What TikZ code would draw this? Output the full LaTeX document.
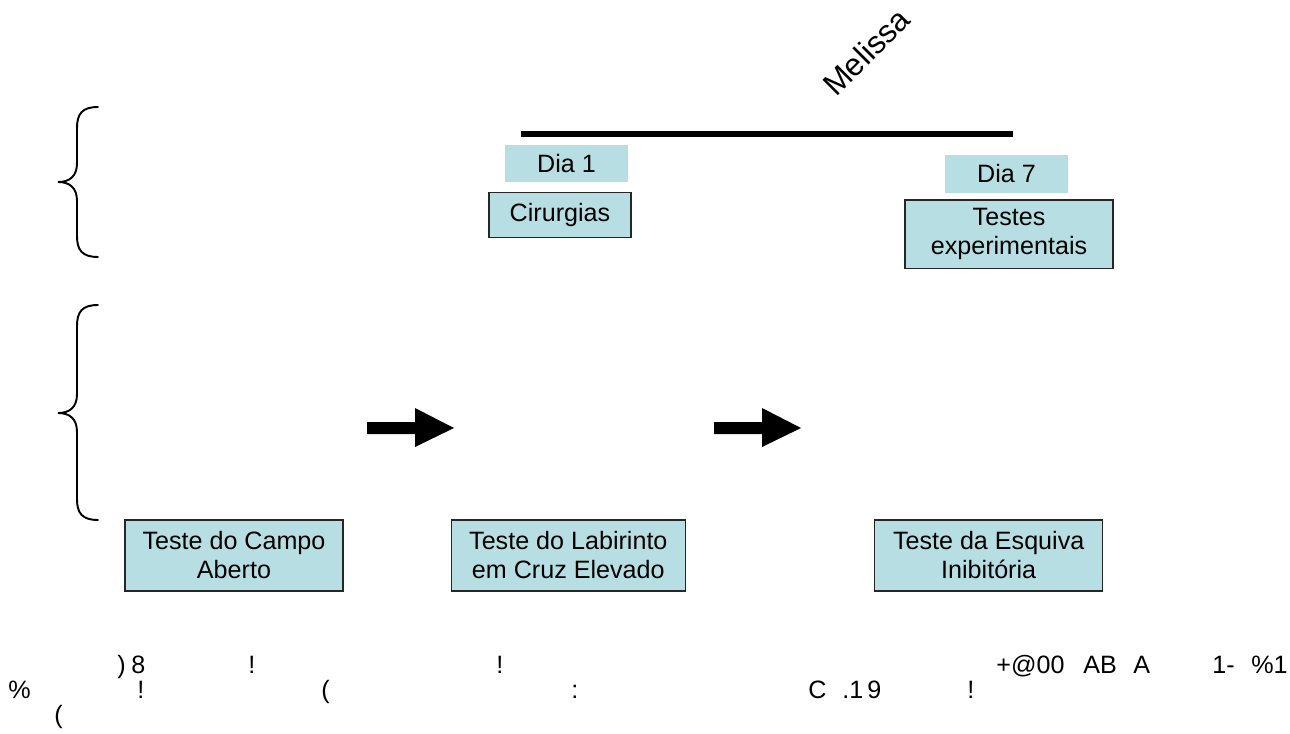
\documentclass[tikz,border=0pt]{standalone}
\usepackage{fontspec}
\setmainfont{Liberation Sans}
\usepackage{tikz}
\usetikzlibrary{positioning}
\definecolor{boxblue}{RGB}{183,223,227}
\tikzstyle{daybox} = [fill=boxblue,minimum width=2.46cm,minimum height=0.75cm,inner sep=0pt,font=\fontsize{14.3}{17}\selectfont]
\tikzstyle{stepbox} = [draw=black!85,line width=0.8pt,fill=boxblue,align=center,inner sep=0pt,minimum height=1.42cm,font=\fontsize{14.3}{16.5}\selectfont]
\tikzstyle{brace} = [line width=1.1pt,line cap=round]
\tikzstyle{foot} = [anchor=base west,inner sep=0pt,font=\fontsize{14.3}{17}\selectfont]
\newcommand{\fatarrow}[1]{\fill (#1) ++(0,-6) -- ++(48,0) -- ++(0,-14) -- ++(39,20) -- ++(-39,19) -- ++(0,-13) -- ++(-48,0) -- cycle;}
\newcommand{\sidebrace}[3]{\draw[brace] (98,#1) .. controls (82,#1) and (77,#1+7) .. (77,#1+21) -- (77,#2-19) .. controls (77,#2-6) and (70,#2) .. (58,#2) .. controls (70,#2) and (77,#2+6) .. (77,#2+19) -- (77,#3-21) .. controls (77,#3-7) and (82,#3) .. (98,#3);}

\begin{document}
\begin{tikzpicture}[x=0.02cm,y=-0.02cm]
	\useasboundingbox (0,0) rectangle (1290,733);

	%Time line
	\coordinate (lstart) at (521,134);
	\coordinate (lend) at (1013,134);
	\draw[line width=3.4pt] (lstart) -- (lend);
	\node [rotate=45,inner sep=0pt,font=\fontsize{18}{21}\selectfont] (melissa) at (866,52) {Melissa};

	%Nodes
	\node [daybox] (dia1) at (566.5,163.5) {Dia 1};
	\node [stepbox,minimum width=2.84cm,minimum height=0.9cm,below=0.18cm of dia1,xshift=-0.13cm] (cirurgias) {Cirurgias};
	\node [daybox] (dia7) at (1006.5,174) {Dia 7};
	\node [stepbox,minimum width=4.16cm,minimum height=1.38cm,below=0.12cm of dia7,xshift=0.05cm] (testes) {Testes\\experimentais};

	\node [stepbox,minimum width=4.36cm] (campo) at (234,555.5) {Teste do Campo\\Aberto};
	\node [stepbox,minimum width=4.68cm,right=2.14cm of campo] (labirinto) {Teste do Labirinto\\em Cruz Elevado};
	\node [stepbox,minimum width=4.56cm,right=3.76cm of labirinto] (esquiva) {Teste da Esquiva\\Inibitória};

	%Braces
	\sidebrace{107}{182}{257}
	\sidebrace{305}{413}{520}

	%Arrows
	\coordinate (arr1) at (367,428);
	\coordinate (arr2) at (714,428);
	\fatarrow{arr1}
	\fatarrow{arr2}

	%Footer
	\foreach \x/\t [count=\i] in {117/{)},131/8,248/!,496/!,996/+@00,1083/AB,1133/A,1212/1-,1251/\%1}
		\node [foot] (fa\i) at (\x,673) {\t};
	\foreach \x/\t [count=\i] in {8/\%,137/!,321/(,571/:,808/C,842/.1,867/9,967/!}
		\node [foot] (fb\i) at (\x,698) {\t};
	\node [foot] (fc1) at (54,723) {(};
\end{tikzpicture}
\end{document}
